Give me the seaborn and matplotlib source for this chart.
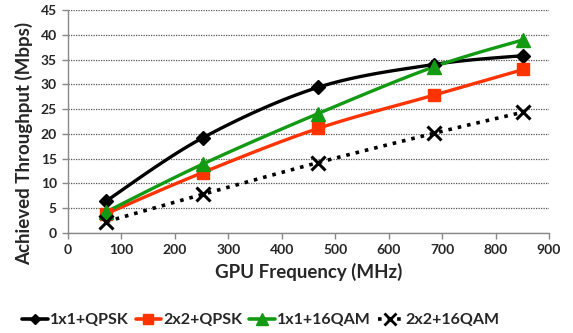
import numpy as np
import pandas as pd
import matplotlib
matplotlib.use("Agg")
import matplotlib.pyplot as plt
from matplotlib.lines import Line2D
import seaborn as sns

freq = [72, 252, 468, 684, 852]
series_names = ["1x1+QPSK", "2x2+QPSK", "1x1+16QAM", "2x2+16QAM"]
qpsk_1x1 = [6.5, 19.2, 29.4, 34.0, 35.8]
qpsk_2x2 = [3.9, 12.2, 21.1, 27.8, 33.0]
qam16_1x1 = [4.3, 13.9, 24.1, 33.5, 39.0]
qam16_2x2 = [2.3, 7.8, 14.2, 20.1, 24.4]
x_ticks = [0, 100, 200, 300, 400, 500, 600, 700, 800, 900]
y_ticks = [0, 5, 10, 15, 20, 25, 30, 35, 40, 45]

colors = ["#000000", "#FF3300", "#129A12", "#000000"]
markers = ["D", "s", "^", "x"]
msizes = [7, 9, 10, 10]
styles = ["-", "-", "-", ":"]

sns.set_theme(style="white")
plt.rcParams["font.family"] = ["Lato", "DejaVu Sans"]
plt.rcParams["font.weight"] = "bold"


def smooth(x, y, n=30, t=0.5):
    x = np.asarray(x, float)
    y = np.asarray(y, float)
    px = np.concatenate([[x[0]], x, [x[-1]]])
    py = np.concatenate([[y[0]], y, [y[-1]]])
    xs, ys = [], []
    for i in range(1, len(px) - 2):
        p0 = np.array([px[i - 1], py[i - 1]])
        p1 = np.array([px[i], py[i]])
        p2 = np.array([px[i + 1], py[i + 1]])
        p3 = np.array([px[i + 2], py[i + 2]])
        c1 = p1 + (p2 - p0) * t / 3
        c2 = p2 - (p3 - p1) * t / 3
        s = np.linspace(0, 1, n)[:, None]
        b = ((1 - s) ** 3) * p1 + 3 * ((1 - s) ** 2) * s * c1 + 3 * (1 - s) * s ** 2 * c2 + s ** 3 * p2
        xs.append(b[:, 0])
        ys.append(b[:, 1])
    return np.concatenate(xs), np.concatenate(ys)


fig = plt.figure(figsize=(5.73, 3.33), dpi=100)
ax = fig.add_axes([68 / 573, 1 - 233 / 333, (549 - 68) / 573, (233 - 10) / 333])

all_series = [qpsk_1x1, qpsk_2x2, qam16_1x1, qam16_2x2]
handles = []
for name, vals, c, m, ms, ls in zip(series_names, all_series, colors, markers, msizes, styles):
    sx, sy = smooth(freq, vals)
    sns.lineplot(x=sx, y=sy, ax=ax, color=c, linestyle=ls,
                 linewidth=2.4 if ls == "-" else 2.6, sort=False, estimator=None, zorder=2)
    df = pd.DataFrame({"f": freq, "v": vals})
    if m == "x":
        ax.plot(df["f"], df["v"], linestyle="none", marker="x", markersize=ms,
                markeredgewidth=2.2, color=c, zorder=3)
    else:
        ax.plot(df["f"], df["v"], linestyle="none", marker=m, markersize=ms,
                color=c, markeredgecolor=c, zorder=3)
    handles.append(Line2D([0], [0], color=c, linestyle=ls, linewidth=2.6, marker=m,
                          markersize=ms * 0.8, markeredgewidth=2.0 if m == "x" else 1,
                          label=name))

ax.set_xlim(0, 900)
ax.set_ylim(0, 45)
ax.set_xticks(x_ticks)
ax.set_yticks(y_ticks)
ax.set_xticklabels([str(v) for v in x_ticks], fontsize=10, fontweight="bold")
ax.set_yticklabels([str(v) for v in y_ticks], fontsize=10, fontweight="bold")
ax.yaxis.grid(True, color="#555555", linestyle=(0, (1, 1)), linewidth=0.9)
ax.xaxis.grid(False)
for sp in ["top", "right"]:
    ax.spines[sp].set_visible(False)
for sp in ["left", "bottom"]:
    ax.spines[sp].set_color("#888888")
    ax.spines[sp].set_linewidth(1.0)
ax.tick_params(axis="both", direction="out", length=4, width=1, color="#888888",
               bottom=True, left=True, pad=4)
ax.set_xlabel("GPU Frequency (MHz)", fontsize=13.5, fontweight="bold", labelpad=5)
ax.set_ylabel("Achieved Throughput (Mbps)", fontsize=13.5, fontweight="bold")
ax.yaxis.set_label_coords(-0.073, 0.40)

fig.legend(handles=handles, loc="center", bbox_to_anchor=(0.455, 0.038), ncol=4,
           frameon=False, handlelength=1.6, handletextpad=0.12,
           columnspacing=0.45, prop={"weight": "bold", "size": 11.5})

fig.savefig("out.png", dpi=100)
